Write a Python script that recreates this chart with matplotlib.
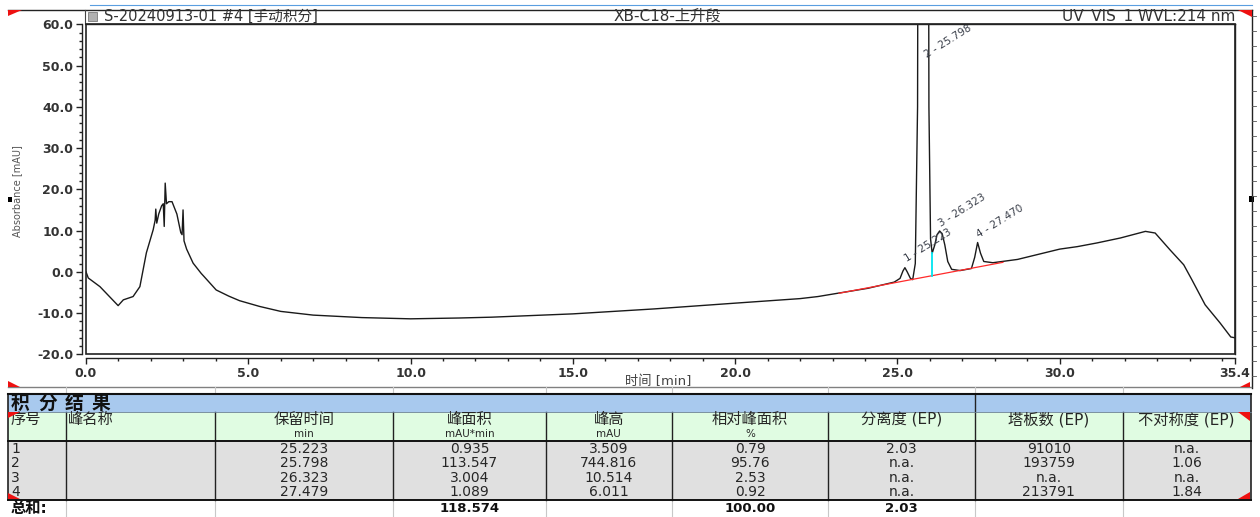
import matplotlib
matplotlib.use('Agg')
import numpy as np
import matplotlib.pyplot as plt
from matplotlib.patches import Rectangle, Polygon
from matplotlib.ticker import MultipleLocator, FixedLocator, FormatStrFormatter

plt.rcParams['font.family'] = ['DejaVu Sans', 'Noto Sans CJK SC']

# ---------------- data ----------------
time_min = [0.0, 0.07, 0.43, 0.99, 1.15, 1.45, 1.66, 1.86, 2.07, 2.13, 2.15, 2.18,
            2.24, 2.33, 2.38, 2.41, 2.44, 2.48, 2.55, 2.65, 2.80, 2.92, 2.96, 2.99,
            3.02, 3.10, 3.30, 3.55, 3.62, 4.01, 4.40, 4.73, 5.35, 6.0, 7.0, 8.5, 10.0,
            11.5, 12.5, 15.0, 17.5, 20.0, 22.0, 22.55, 23.16, 24.09, 24.9, 25.08,
            25.17, 25.23, 25.30, 25.40, 25.47, 25.55, 25.62, 25.798, 25.97, 26.02,
            26.07, 26.15, 26.22, 26.30, 26.38, 26.46, 26.55, 26.67, 26.93, 27.28,
            27.38, 27.47, 27.56, 27.66, 27.94, 28.7, 30.0, 30.54, 31.15, 31.87,
            32.64, 32.94, 33.40, 33.82, 34.07, 34.48, 34.94, 35.27, 35.4]
absorbance = [0.0, -1.5, -3.6, -8.2, -6.8, -6.0, -3.6, 4.6, 10.2, 12.5, 15.2, 11.8,
              14.0, 16.0, 16.5, 11.0, 21.5, 16.5, 17.0, 17.0, 14.0, 9.5, 9.0, 15.0,
              7.5, 5.5, 2.1, -0.4, -1.0, -4.4, -5.9, -7.0, -8.4, -9.6, -10.5, -11.1, -11.4,
              -11.2, -11.0, -10.2, -9.0, -7.6, -6.5, -6.0, -5.2, -4.0, -2.5, -1.6,
              0.2, 1.0, 0.0, -1.6, -1.9, 2.0, 40.0, 744.816, 40.0, 8.0,
              4.5, 6.5, 9.0, 9.9, 9.2, 6.5, 2.5, 0.6, 0.3, 0.8,
              3.5, 7.1, 4.5, 2.5, 2.2, 3.0, 5.5, 6.1, 7.0, 8.2,
              9.8, 9.4, 5.3, 1.7, -1.9, -8.0, -12.4, -15.8, -16.0]

baseline_time = [23.2, 28.25]
baseline_abs = [-5.2, 2.3]
split_time = 26.06
split_abs = [-0.95, 4.5]

peak_labels = ["1 - 25.223", "2 - 25.798", "3 - 26.323", "4 - 27.470"]
peak_label_time = [25.26, 25.86, 26.30, 27.46]
peak_label_abs = [3.0, 52.5, 11.5, 8.8]

x_ticks = [0.0, 5.0, 10.0, 15.0, 20.0, 25.0, 30.0, 35.4]
y_ticks = [-20.0, -10.0, 0.0, 10.0, 20.0, 30.0, 40.0, 50.0, 60.0]

header_left = "S-20240913-01 #4 [手动积分]"
header_mid = "XB-C18-上升段"
header_right = "UV_VIS_1 WVL:214 nm"
x_label = "时间 [min]"
y_label = "Absorbance [mAU]"

table_title = "积分结果"
col_titles = ["序号", "峰名称", "保留时间", "峰面积", "峰高", "相对峰面积",
              "分离度 (EP)", "塔板数 (EP)", "不对称度 (EP)"]
col_units = ["", "", "min", "mAU*min", "mAU", "%", "", "", ""]
peak_no = ["1", "2", "3", "4"]
peak_name = ["", "", "", ""]
ret_time = [25.223, 25.798, 26.323, 27.479]
peak_area = [0.935, 113.547, 3.004, 1.089]
peak_height = [3.509, 744.816, 10.514, 6.011]
rel_area = [0.79, 95.76, 2.53, 0.92]
resolution = ["2.03", "n.a.", "n.a.", "n.a."]
plates = ["91010", "193759", "n.a.", "213791"]
asymmetry = ["n.a.", "1.06", "n.a.", "1.84"]
sum_label = "总和:"
total_area = 118.574
total_rel = 100.00
total_res = 2.03

# ---------------- figure ----------------
W, H = 1260, 517
fig = plt.figure(figsize=(W / 100, H / 100), dpi=100)
fig.patch.set_facecolor('white')

ov = fig.add_axes([0, 0, 1, 1], zorder=0)
ov.set_xlim(0, W)
ov.set_ylim(H, 0)
ov.axis('off')

ax_l, ax_r, ax_t, ax_b = 86, 1235, 24.3, 354.3
ax = fig.add_axes([ax_l / W, 1 - ax_b / H, (ax_r - ax_l) / W, (ax_b - ax_t) / H], zorder=2)
ax.set_facecolor('white')

ax.plot(time_min, absorbance, color='#1a1a1a', lw=1.0, solid_joinstyle='round')
ax.plot(baseline_time, baseline_abs, color='#ff2a2a', lw=0.9)
ax.plot([split_time, split_time], split_abs, color='#00e5f0', lw=1.3)
for lab, t, a in zip(peak_labels, peak_label_time, peak_label_abs):
    ax.text(t, a, lab, rotation=32, rotation_mode='anchor', ha='left', va='center',
            fontsize=7.5, color='#3a3f4a')

ax.set_xlim(0, 35.4)
ax.set_ylim(-20, 60)
ax.xaxis.set_major_locator(FixedLocator(x_ticks))
ax.xaxis.set_minor_locator(MultipleLocator(1))
ax.yaxis.set_major_locator(FixedLocator(y_ticks))
ax.yaxis.set_minor_locator(MultipleLocator(2))
ax.xaxis.set_major_formatter(FormatStrFormatter('%.1f'))
ax.yaxis.set_major_formatter(FormatStrFormatter('%.1f'))
ax.spines['left'].set_position(('outward', 3))
ax.spines['bottom'].set_position(('outward', 3))
for s in ax.spines.values():
    s.set_linewidth(1.0)
    s.set_color('#222222')
ax.add_patch(Rectangle((0, 0), 1, 1, transform=ax.transAxes, fill=False,
                       lw=1.2, ec='#222222', clip_on=False, zorder=5))
ax.tick_params(which='major', length=4, width=1, direction='out', labelsize=9,
               labelcolor='#333333', color='#222222', pad=2)
ax.tick_params(which='minor', length=2.5, width=1, direction='out', color='#222222')
for lbl in ax.get_xticklabels() + ax.get_yticklabels():
    lbl.set_fontweight('bold')

# axis labels
ov.text(658, 381, x_label, ha='center', va='center', fontsize=9.5, color='#444444')
ov.text(17, 191, y_label, ha='center', va='center', rotation=90, fontsize=7, color='#555555')

# header
ov.plot([8, 1252], [9.5, 9.5], color='#222222', lw=1.0)
ov.plot([90, 1252], [5, 5], color='#5a9ee0', lw=0.8)
ov.plot([85, 85], [9.5, 24], color='#444444', lw=0.8)
ov.text(104, 16.5, header_left, ha='left', va='center', fontsize=10.5, color='#333333')
ov.add_patch(Rectangle((88, 12), 9, 9, fc='#b0b0b0', ec='#666666', lw=0.5))
ov.text(667, 16.5, header_mid, ha='center', va='center', fontsize=11, color='#333333')
ov.text(1235, 16.5, header_right, ha='right', va='center', fontsize=11, color='#333333')

# right side panel edge
ov.plot([1252, 1252], [9.5, 388], color='#222222', lw=1.0)
for yy in np.arange(16, 388, 15):
    ov.plot([1252, 1256], [yy, yy], color='#555555', lw=0.6)
ov.add_patch(Rectangle((1249, 196), 5, 6, fc='black', ec='none'))
ov.add_patch(Rectangle((8, 197), 4, 5, fc='black', ec='none'))

# red corner marks
red = '#ee1111'
for pts in [[(8, 10), (22, 10), (8, 16)], [(1238, 10), (1252, 10), (1252, 17)],
            [(8, 381), (20, 387), (8, 387)], [(1240, 387), (1250, 382), (1250, 387)],
            [(8, 412), (20, 412), (8, 418)], [(1238, 412), (1250, 412), (1250, 421)],
            [(8, 493), (20, 499), (8, 499)], [(1238, 499), (1250, 492), (1250, 499)]]:
    ov.add_patch(Polygon(pts, closed=True, fc=red, ec='none', zorder=6))

# ---------------- table ----------------
cols = [8, 65.7, 215, 393, 546, 671.7, 828.3, 975, 1122.7, 1250.7]
L, R = cols[0], cols[-1]
y_thin, y_blue, y_green, y_grey, y_sum, y_end = 387, 394, 412, 441, 500, 517

ov.add_patch(Rectangle((L, y_blue), R - L, y_green - y_blue, fc='#a8c9ee', ec='none'))
ov.add_patch(Rectangle((L, y_green), R - L, y_grey - y_green, fc='#e0fce2', ec='none'))
ov.add_patch(Rectangle((L, y_grey), R - L, y_sum - y_grey, fc='#e0e0e0', ec='none'))

ov.plot([L, R], [y_thin, y_thin], color='#808080', lw=1.0)
for c in cols[1:-1]:
    ov.plot([c, c], [y_thin, y_blue], color='#c8c8c8', lw=0.8)
    ov.plot([c, c], [y_sum, y_end], color='#c8c8c8', lw=0.8)
    if c != 975:
        ov.plot([c, c], [y_green, y_sum], color='#222222', lw=1.0)
ov.plot([975, 975], [y_blue, y_sum], color='#222222', lw=1.0)
ov.plot([L, L], [y_blue, y_sum], color='#222222', lw=1.2)
ov.plot([R, R], [y_blue, y_sum], color='#222222', lw=1.2)
ov.plot([L, R], [y_blue, y_blue], color='#111111', lw=1.5)
ov.plot([L, R], [y_green, y_green], color='#6a7f95', lw=0.6)
ov.plot([L, R], [y_grey, y_grey], color='#111111', lw=1.4)
ov.plot([L, R], [y_sum, y_sum], color='#111111', lw=1.4)

# title chars spaced
for i, ch in enumerate(table_title):
    ov.text(11 + 27 * i, 403.5, ch, ha='left', va='center', fontsize=13.5,
            fontweight='bold', color='#111111')

centers = [(cols[i] + cols[i + 1]) / 2 for i in range(len(cols) - 1)]
tc = '#262626'
for i, (tt, un) in enumerate(zip(col_titles, col_units)):
    if i < 2:
        ov.text(cols[i] + 2.5, 419.5, tt, ha='left', va='center', fontsize=11, color=tc)
    else:
        ov.text(centers[i], 419.5, tt, ha='center', va='center', fontsize=11, color=tc)
    if un:
        ov.text(centers[i], 434, un, ha='center', va='center', fontsize=7.5, color=tc)

row_y = [449, 463.3, 477.6, 492]
for r in range(4):
    y = row_y[r]
    ov.text(cols[0] + 3, y, peak_no[r], ha='left', va='center', fontsize=10, color=tc)
    ov.text(cols[1] + 3, y, peak_name[r], ha='left', va='center', fontsize=10, color=tc)
    vals = [f"{ret_time[r]:.3f}", f"{peak_area[r]:.3f}", f"{peak_height[r]:.3f}",
            f"{rel_area[r]:.2f}", resolution[r], plates[r], asymmetry[r]]
    for j, v in enumerate(vals):
        ov.text(centers[j + 2], y, v, ha='center', va='center', fontsize=10, color=tc)

ov.text(cols[0] + 3, 509, sum_label, ha='left', va='center', fontsize=11,
        fontweight='bold', color='#111111')
ov.text(centers[3], 509, f"{total_area:.3f}", ha='center', va='center', fontsize=9.5,
        fontweight='bold', color='#111111')
ov.text(centers[5], 509, f"{total_rel:.2f}", ha='center', va='center', fontsize=9.5,
        fontweight='bold', color='#111111')
ov.text(centers[6], 509, f"{total_res:.2f}", ha='center', va='center', fontsize=9.5,
        fontweight='bold', color='#111111')

fig.savefig('out.png', dpi=100)
